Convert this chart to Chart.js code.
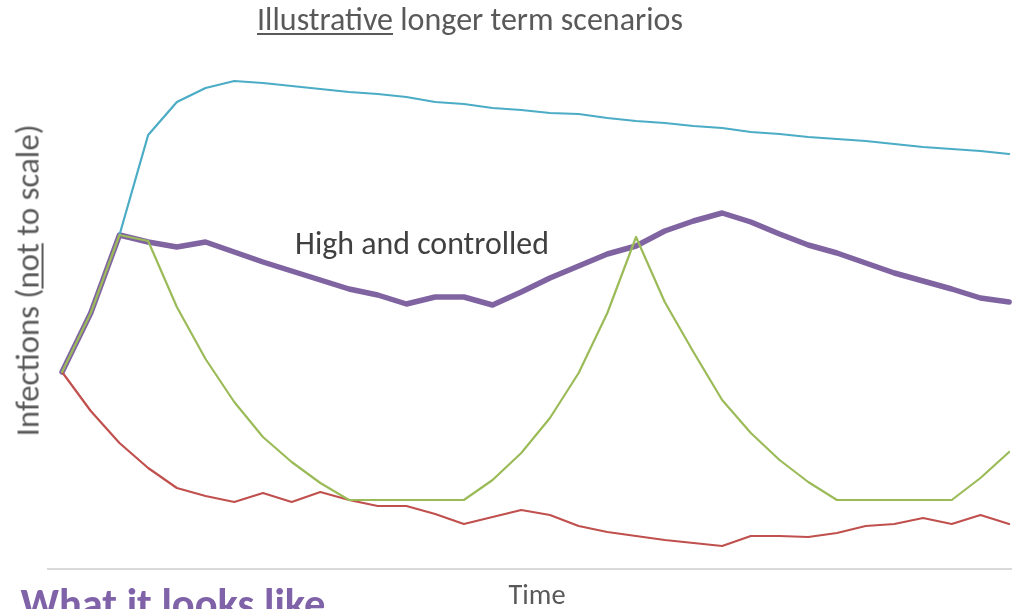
<!DOCTYPE html>
<html>
<head>
<meta charset="utf-8">
<script src="https://cdn.jsdelivr.net/npm/chart.js@4/dist/chart.umd.min.js"></script>
<style>
  html, body { margin: 0; padding: 0; background: #ffffff; }
  #wrap { position: relative; width: 1012px; height: 609px; overflow: hidden; background: #ffffff; }
  #chart { position: absolute; left: 0; top: 0; }
  .txt { position: absolute; white-space: nowrap; font-family: Carlito, Calibri, Lato, "Open Sans", sans-serif; line-height: 1; }
  .txt u { text-decoration-thickness: 2px; text-underline-offset: 3px; }
  #title { color: #595959; }
  #note { color: #404040; }
  #ytitle { color: #595959; transform-origin: center center; }
  #xtitle { color: #595959; }
  #footer { color: #7F62A8; font-weight: bold; }
</style>
</head>
<body>
<div id="wrap">
  <canvas id="chart" width="1012" height="609"></canvas>
  <div class="txt" id="title"><u>Illustrative</u> longer term scenarios</div>
  <div class="txt" id="note">High and controlled</div>
  <div class="txt" id="ytitle">Infections (<u>not</u> to scale)</div>
  <div class="txt" id="xtitle">Time</div>
  <div class="txt" id="footer">What it looks like</div>
</div>
<script>
// Time periods along the horizontal axis
const periods = [0, 1, 2, 3, 4, 5, 6, 7, 8, 9, 10, 11, 12, 13, 14, 15, 16,
                 17, 18, 19, 20, 21, 22, 23, 24, 25, 26, 27, 28, 29, 30, 31, 32, 33];

// Infection levels per scenario (arbitrary units, not to scale)
const highUncontrolled = [null, null, 334, 434, 467, 481, 488, 486, 483, 480, 477, 475, 472, 467, 465, 461, 459,
                          456, 455, 451, 448, 446, 443, 441, 437, 435, 432, 430, 428, 425, 422, 420, 418, 415];
const highControlled   = [197, 256, 334, 327, 322, 327, 317, 307, 298, 289, 280, 274, 265, 272, 272, 264, 277,
                          291, 303, 315, 323, 338, 348, 356, 347, 335, 324, 316, 306, 296, 288, 280, 271, 267];
const waves            = [197, 256, 334, 328, 262, 210, 167, 132, 107, 86, 69, 69, 69, 69, 69, 89, 116,
                          151, 196, 256, 332, 267, 217, 169, 136, 109, 87, 69, 69, 69, 69, 69, 91, 117];
const suppressed       = [197, 158, 126, 101, 81, 73, 67, 76, 67, 77, 69, 63, 63, 55, 45, 52, 59,
                          54, 43, 37, 33, 29, 26, 23, 33, 33, 32, 36, 43, 45, 51, 45, 54, 45];

const toPoints = arr => periods.map((p, i) => ({ x: p, y: arr[i] }));

const line = (label, values, color, width) => ({
  label,
  data: toPoints(values),
  borderColor: color,
  backgroundColor: color,
  borderWidth: width,
  pointRadius: 0,
  pointHoverRadius: 0,
  tension: 0,
  borderJoinStyle: 'round',
  borderCapStyle: 'round',
  spanGaps: false,
  fill: false
});

new Chart(document.getElementById('chart'), {
  type: 'line',
  data: {
    datasets: [
      line('Waves', waves, '#9BBB59', 2.2),
      line('Suppressed', suppressed, '#C0504D', 2.2),
      line('High and uncontrolled', highUncontrolled, '#4BACC6', 2.2),
      line('High and controlled', highControlled, '#8064A2', 5.5)
    ]
  },
  options: {
    responsive: false,
    animation: false,
    events: [],
    layout: { padding: { left: 48, right: 0, top: 40, bottom: 40 } },
    plugins: { legend: { display: false }, tooltip: { enabled: false }, title: { display: false } },
    scales: {
      x: {
        type: 'linear',
        min: -0.49,
        max: 33.1,
        ticks: { display: false },
        grid: { display: true, drawOnChartArea: false, drawTicks: false, color: 'transparent' },
        border: { display: true, color: '#D9D9D9', width: 2 }
      },
      y: {
        display: false,
        min: 0,
        max: 529
      }
    }
  }
});

// Size each caption to its span and place it by its centre
const ctx = document.createElement('canvas').getContext('2d');
function place(id, cx, cy, span, weight, rotate) {
  const el = document.getElementById(id);
  const fam = getComputedStyle(el).fontFamily;
  ctx.font = (weight || 'normal') + ' 100px ' + fam;
  const w = ctx.measureText(el.textContent).width;
  const size = 100 * span / w;
  el.style.fontSize = size.toFixed(2) + 'px';
  const r = el.getBoundingClientRect();
  el.style.left = (cx - r.width / 2) + 'px';
  el.style.top = (cy - r.height / 2) + 'px';
  if (rotate) el.style.transform = 'rotate(-90deg)';
}
place('title', 470, 19, 426);
place('note', 422, 244, 254);
place('ytitle', 27.5, 280, 312, null, true);
place('xtitle', 537, 595, 57);
place('footer', 173, 604, 305, 'bold');
</script>
</body>
</html>
